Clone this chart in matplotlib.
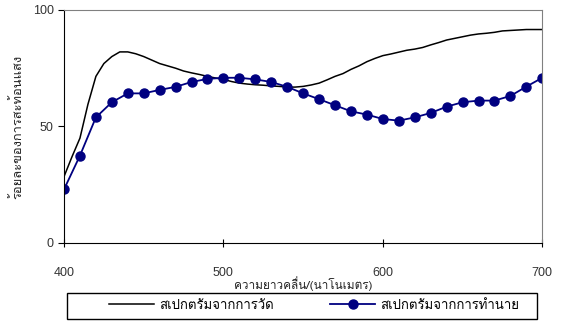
import matplotlib
matplotlib.use("Agg")
import matplotlib.pyplot as plt
from matplotlib import font_manager
from matplotlib.ft2font import FT2Font
from matplotlib.patches import Rectangle

# measured spectrum (black line), every 5 nm
measured_wl = list(range(400, 701, 5))
measured = [28.5, 37, 45, 59.5, 71.5, 77, 80, 82, 82, 81.2, 80, 78.5, 77, 76, 75,
            73.8, 73, 72.3, 71.5, 70.8, 70.2, 69.3, 68.6, 68.2, 67.9, 67.7, 67.4,
            67.2, 66.9, 66.9, 67.2, 67.8, 68.6, 70, 71.5, 72.7, 74.5, 76, 77.8,
            79.2, 80.4, 81.1, 81.9, 82.7, 83.2, 83.9, 85, 86, 87.1, 87.8, 88.5,
            89.2, 89.7, 90, 90.4, 91, 91.2, 91.4, 91.6, 91.6, 91.6]

# predicted spectrum (blue markers), every 10 nm
predicted_wl = list(range(400, 701, 10))
predicted = [23.0, 37.5, 53.9, 60.4, 64.2, 64.2, 65.7, 67.0, 69.1, 70.4, 70.9,
             70.9, 70.2, 69.1, 67.0, 64.2, 61.7, 59.1, 56.5, 55.1, 53.2, 52.5,
             53.9, 55.8, 58.5, 60.4, 61.1, 61.1, 63.1, 67.1, 70.9]

x_ticks = [400, 500, 600, 700]
y_ticks = [0, 50, 100]
x_label = "ความยาวคลื่น/(นาโนเมตร)"
y_label = "ร้อยละของการสะท้อนแสง"
labels = ["สเปกตรัมจากการวัด", "สเปกตรัมจากการทำนาย"]


def thai_family():
    # pick an installed font that has Thai glyphs
    for f in font_manager.fontManager.ttflist:
        try:
            if 0x0E01 in FT2Font(f.fname).get_charmap():
                return f.name
        except Exception:
            pass
    return "DejaVu Sans"


plt.rcParams["font.family"] = [thai_family(), "DejaVu Sans"]

fig = plt.figure(figsize=(5.64, 3.21), dpi=100)
ax = fig.add_axes([0.1135, 0.243, 0.848, 0.726])

ax.plot(measured_wl, measured, color="black", lw=1.1, label=labels[0])
ax.plot(predicted_wl, predicted, color="#000080", lw=1.3, marker="o",
        markersize=6.5, label=labels[1])

ax.set_xlim(400, 700)
ax.set_ylim(0, 100)
ax.set_xticks(x_ticks)
ax.set_yticks(y_ticks)
ax.tick_params(axis="x", direction="inout", length=6, pad=14)
ax.tick_params(axis="y", direction="out", length=4)
for lab in ax.get_xticklabels() + ax.get_yticklabels():
    lab.set_family("Liberation Sans")
    lab.set_fontsize(9)
    lab.set_color("#333333")
for s in ["top", "right"]:
    ax.spines[s].set_color("#808080")

ax.set_xlabel(x_label, fontsize=8.5, labelpad=-2, color="#222222")
ax.set_ylabel(y_label, fontsize=9.3, labelpad=6, color="#222222")

# legend box spans almost the full width, entries sit in the middle
fig.patches.append(Rectangle((67 / 564, 2 / 321), 470 / 564, 26 / 321,
                             transform=fig.transFigure, fill=False,
                             edgecolor="black", lw=1.0))
fig.legend(loc="center", bbox_to_anchor=(0.557, 0.047), ncol=2, fontsize=9.5,
           frameon=False, handlelength=3.4, handletextpad=0.35,
           columnspacing=4.3, borderaxespad=0)

fig.savefig("out.png", dpi=100)
